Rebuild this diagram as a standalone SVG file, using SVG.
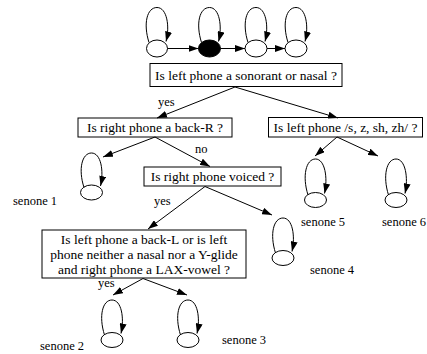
<svg xmlns="http://www.w3.org/2000/svg" width="427" height="354" viewBox="0 0 427 354">
<style>
  .box{fill:#fff;stroke:#000;stroke-width:1}
  .st{fill:#fff;stroke:#000;stroke-width:1}
  .loop,.edge{fill:none;stroke:#000;stroke-width:1}
  text{font-family:"Liberation Serif","Times New Roman",serif;font-size:13.5px;fill:#000}
  .bt{text-anchor:middle}
  .lbl{font-size:12.5px}
</style>
<defs>
  <marker id="ah" markerUnits="userSpaceOnUse" markerWidth="10" markerHeight="7" refX="10" refY="3.5" orient="auto">
    <path d="M0,0 L10,3.5 L0,7 z" fill="#000"/>
  </marker>
</defs>
<rect width="427" height="354" fill="#fff"/>

<g id="hmm">
  <g id="s1"><ellipse class="st" cx="157" cy="48.5" rx="10.5" ry="8.5"/><path class="loop" marker-end="url(#ah)" d="M149,42.5 C143,23.5 147,7.5 157,7.5 C167,7.5 170,26.5 166,41.5"/></g>
  <g id="s2"><ellipse cx="209.5" cy="48.5" rx="11" ry="8.5" fill="#000" stroke="#000"/><path class="loop" marker-end="url(#ah)" d="M201.5,42.5 C195.5,23.5 199.5,7.5 209.5,7.5 C219.5,7.5 222.5,26.5 218.5,41.5"/></g>
  <g id="s3"><ellipse class="st" cx="256" cy="48.5" rx="11" ry="8.5"/><path class="loop" marker-end="url(#ah)" d="M248,42.5 C242,23.5 246,7.5 256,7.5 C266,7.5 269,26.5 265,41.5"/></g>
  <g id="s4"><ellipse class="st" cx="296" cy="48.5" rx="11" ry="8.5"/><path class="loop" marker-end="url(#ah)" d="M288,42.5 C282,23.5 286,7.5 296,7.5 C306,7.5 309,26.5 305,41.5"/></g>
</g>

<g id="q1"><rect class="box" x="150" y="63.5" width="192" height="23"/><text class="bt" x="246" y="80">Is left phone a sonorant or nasal ?</text></g>
<g id="q2"><rect class="box" x="78" y="118" width="154" height="19"/><text class="bt" x="155" y="132">Is right phone a back-R ?</text></g>
<g id="q3"><rect class="box" x="268.5" y="117.5" width="154" height="19.5"/><text class="bt" x="345.5" y="132">Is left phone /s, z, sh, zh/ ?</text></g>
<g id="q4"><rect class="box" x="144" y="167" width="137" height="19"/><text class="bt" x="212.5" y="181">Is right phone voiced ?</text></g>
<g id="q5"><rect class="box" x="42" y="230" width="204" height="48"/>
  <text class="bt" x="144" y="243.5">Is left phone a back-L or is left</text>
  <text class="bt" x="144" y="258.5">phone neither a nasal nor a Y-glide</text>
  <text class="bt" x="144" y="273.5">and right phone a LAX-vowel ?</text></g>

<g id="senone1"><ellipse class="st" cx="91.5" cy="192.5" rx="11" ry="7.5"/><path class="loop" marker-end="url(#ah)" d="M84,187.5 C78,169 82,153 91.5,153 C101,153 104,171 100.5,186"/><text class="lbl" x="13" y="205">senone 1</text></g>
<g id="senone5"><ellipse class="st" cx="315.5" cy="200" rx="11" ry="7.5"/><path class="loop" marker-end="url(#ah)" d="M308,195 C302,176 306,159 315.5,159 C325,159 328,178 324.5,193.5"/><text class="lbl" x="301" y="226">senone 5</text></g>
<g id="senone6"><ellipse class="st" cx="396" cy="200" rx="11" ry="7.5"/><path class="loop" marker-end="url(#ah)" d="M388.5,195 C382.5,176 386.5,159 396,159 C405.5,159 408.5,178 405,193.5"/><text class="lbl" x="382" y="226">senone 6</text></g>
<g id="senone4"><ellipse class="st" cx="283" cy="258" rx="11" ry="7.5"/><path class="loop" marker-end="url(#ah)" d="M275.5,253 C269.5,234 273.5,218 283,218 C292.5,218 295.5,236 292,251.5"/><text class="lbl" x="310" y="274">senone 4</text></g>
<g id="senone2"><ellipse class="st" cx="112" cy="340" rx="11" ry="7.5"/><path class="loop" marker-end="url(#ah)" d="M104.5,335 C98.5,316 102.5,300 112,300 C121.5,300 124.5,318 121,333.5"/><text class="lbl" x="40" y="350">senone 2</text></g>
<g id="senone3"><ellipse class="st" cx="188" cy="340" rx="11" ry="7.5"/><path class="loop" marker-end="url(#ah)" d="M180.5,335 C174.5,316 178.5,300 188,300 C197.5,300 200.5,318 197,333.5"/><text class="lbl" x="222" y="344">senone 3</text></g>

<g id="connectors">
  <line class="edge" marker-end="url(#ah)" x1="167.5" y1="48.5" x2="198.5" y2="48.5"/>
  <line class="edge" marker-end="url(#ah)" x1="220.5" y1="48.5" x2="245" y2="48.5"/>
  <line class="edge" marker-end="url(#ah)" x1="267" y1="48.5" x2="285" y2="48.5"/>
  <line class="edge" marker-end="url(#ah)" x1="235" y1="87" x2="157" y2="118"/>
  <line class="edge" marker-end="url(#ah)" x1="235" y1="87" x2="338" y2="118"/>
  <line class="edge" marker-end="url(#ah)" x1="155" y1="137" x2="103" y2="157"/>
  <line class="edge" marker-end="url(#ah)" x1="155" y1="137" x2="210" y2="166.5"/>
  <line class="edge" marker-end="url(#ah)" x1="337" y1="137" x2="315" y2="156"/>
  <line class="edge" marker-end="url(#ah)" x1="337" y1="137" x2="378" y2="156"/>
  <line class="edge" marker-end="url(#ah)" x1="205" y1="186.5" x2="148" y2="229"/>
  <line class="edge" marker-end="url(#ah)" x1="205" y1="186.5" x2="272" y2="215"/>
  <line class="edge" marker-end="url(#ah)" x1="143" y1="278.5" x2="113" y2="295"/>
  <line class="edge" marker-end="url(#ah)" x1="143" y1="278.5" x2="187" y2="295"/>
  <text class="lbl" x="158" y="106">yes</text>
  <text class="lbl" x="195" y="153">no</text>
  <text class="lbl" x="154" y="205">yes</text>
  <text class="lbl" x="98" y="287">yes</text>
</g>
</svg>
